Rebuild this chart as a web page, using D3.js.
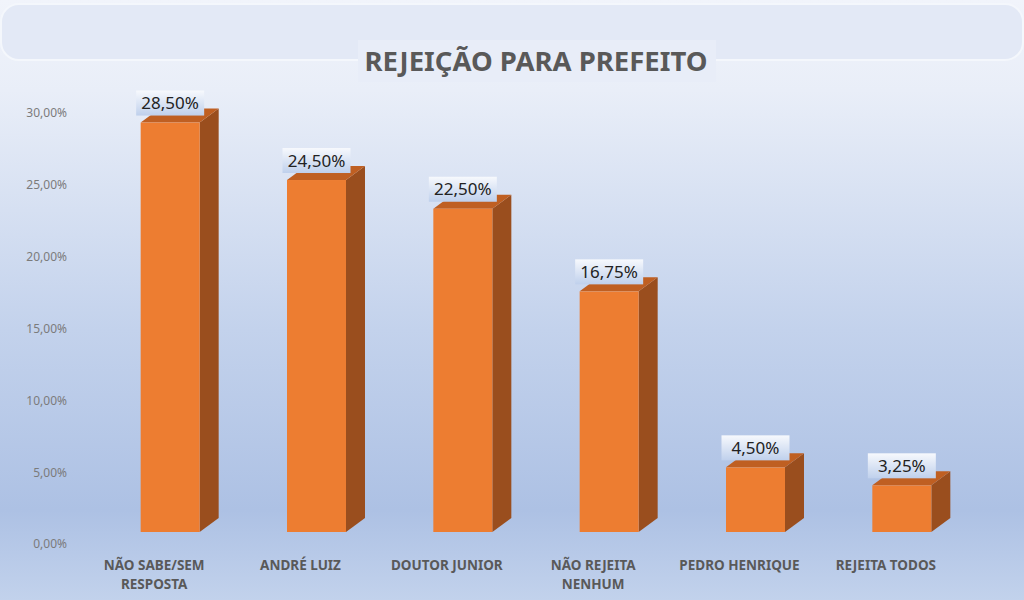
<!DOCTYPE html>
<html>
<head>
<meta charset="utf-8">
<script src="https://cdn.jsdelivr.net/npm/d3@7"></script>
<style>
  body { margin: 0; padding: 0; overflow: hidden; }
</style>
</head>
<body>
<div id="chart"></div>
<script>
var categories = ["NÃO SABE/SEM\nRESPOSTA", "ANDRÉ LUIZ", "DOUTOR JUNIOR", "NÃO REJEITA\nNENHUM", "PEDRO HENRIQUE", "REJEITA TODOS"];
var values = [28.5, 24.5, 22.5, 16.75, 4.5, 3.25];
var tickValues = [0, 5, 10, 15, 20, 25, 30];
var title = "REJEIÇÃO PARA PREFEITO";

var width = 1024, height = 600;
var depth = { dx: 19, dy: -14 };   // oblique offset of the 3d bars
var frontShift = -12;              // front face sits above the axis baseline

var fmt = function(d) { return d3.format(".2f")(d).replace(".", ",") + "%"; };

var svg = d3.select("#chart").append("svg")
    .attr("width", width)
    .attr("height", height)
    .style("font-family", "'Noto Sans', sans-serif");

var defs = svg.append("defs");

var bg = defs.append("linearGradient")
    .attr("id", "bg").attr("x1", 0).attr("y1", 0).attr("x2", 0).attr("y2", 1);
bg.append("stop").attr("offset", "0%").attr("stop-color", "#f1f4fb");
bg.append("stop").attr("offset", "15%").attr("stop-color", "#e9eef8");
bg.append("stop").attr("offset", "55%").attr("stop-color", "#c3d2ec");
bg.append("stop").attr("offset", "85%").attr("stop-color", "#adc1e4");
bg.append("stop").attr("offset", "100%").attr("stop-color", "#c2d2ec");

var lbl = defs.append("linearGradient")
    .attr("id", "lbl").attr("x1", 0).attr("y1", 0).attr("x2", 0).attr("y2", 1);
lbl.append("stop").attr("offset", "0%").attr("stop-color", "#f7f9fd");
lbl.append("stop").attr("offset", "100%").attr("stop-color", "#bfd0ec");

svg.append("rect")
    .attr("width", width).attr("height", height)
    .attr("fill", "url(#bg)");

// glossy band at the top
svg.append("rect")
    .attr("x", 1).attr("y", 4)
    .attr("width", width - 2).attr("height", 56)
    .attr("rx", 18)
    .attr("fill", "#e3e9f6")
    .attr("stroke", "#f4f7fc")
    .attr("stroke-width", 2);

svg.append("rect")
    .attr("x", 358).attr("y", 40)
    .attr("width", 358).attr("height", 42)
    .attr("fill", "#e8edf8");

svg.append("text")
    .attr("x", 536).attr("y", 71)
    .attr("text-anchor", "middle")
    .attr("font-size", 27)
    .attr("font-weight", "bold")
    .attr("fill", "#595959")
    .attr("textLength", 343)
    .attr("lengthAdjust", "spacingAndGlyphs")
    .text(title);

var x = d3.scaleBand()
    .domain(categories)
    .range([81, 959])
    .padding(0);

var y = d3.scaleLinear()
    .domain([0, 30])
    .range([544, 113]);

var yAxis = d3.axisLeft(y)
    .tickValues(tickValues)
    .tickSize(0)
    .tickPadding(0)
    .tickFormat(fmt);

var gy = svg.append("g")
    .attr("transform", "translate(67,0)")
    .call(yAxis);
gy.select(".domain").remove();
gy.selectAll("text")
    .attr("font-size", 12)
    .attr("font-family", "'Noto Sans', sans-serif")
    .attr("fill", "#7b7b7b");

var barW = 59;
var data = categories.map(function(c, i) { return { cat: c, value: values[i] }; });

var bars = svg.append("g").selectAll("g")
    .data(data)
    .enter().append("g");

function x0(d) { return x(d.cat) + x.bandwidth() / 2 - 13.5; }
function yTop(d) { return y(d.value) + frontShift; }
function yBase() { return y(0) + frontShift; }

// side face
bars.append("path")
    .attr("fill", "#9a4e1e")
    .attr("d", function(d) {
        var a = x0(d) + barW, t = yTop(d), b = yBase();
        return "M" + a + "," + t + "L" + (a + depth.dx) + "," + (t + depth.dy) +
            "L" + (a + depth.dx) + "," + (b + depth.dy) + "L" + a + "," + b + "Z";
    });

// top face
bars.append("path")
    .attr("fill", "#bf5f22")
    .attr("d", function(d) {
        var l = x0(d), t = yTop(d);
        return "M" + l + "," + t + "L" + (l + barW) + "," + t +
            "L" + (l + barW + depth.dx) + "," + (t + depth.dy) +
            "L" + (l + depth.dx) + "," + (t + depth.dy) + "Z";
    });

// front face
bars.append("rect")
    .attr("x", x0)
    .attr("y", yTop)
    .attr("width", barW)
    .attr("height", function(d) { return yBase() - yTop(d); })
    .attr("fill", "#ed7d31");

// data labels
var boxW = 68, boxH = 25;
bars.append("rect")
    .attr("x", function(d) { return x0(d) + barW / 2 - boxW / 2; })
    .attr("y", function(d) { return yTop(d) - 7 - boxH; })
    .attr("width", boxW)
    .attr("height", boxH)
    .attr("fill", "url(#lbl)");

bars.append("text")
    .attr("x", function(d) { return x0(d) + barW / 2; })
    .attr("y", function(d) { return yTop(d) - 7 - boxH / 2 + 6; })
    .attr("text-anchor", "middle")
    .attr("font-size", 17)
    .attr("fill", "#222")
    .text(function(d) { return fmt(d.value); });

// category labels
var labels = svg.append("g").selectAll("text")
    .data(categories)
    .enter().append("text")
    .attr("x", function(d) { return x(d) + x.bandwidth() / 2; })
    .attr("y", 570)
    .attr("text-anchor", "middle")
    .attr("font-size", 13.5)
    .attr("font-weight", "bold")
    .attr("fill", "#595959");

labels.selectAll("tspan")
    .data(function(d) { return d.split("\n"); })
    .enter().append("tspan")
    .attr("x", function() { return d3.select(this.parentNode).attr("x"); })
    .attr("dy", function(d, i) { return i ? 19 : 0; })
    .text(function(d) { return d; });
</script>
</body>
</html>
